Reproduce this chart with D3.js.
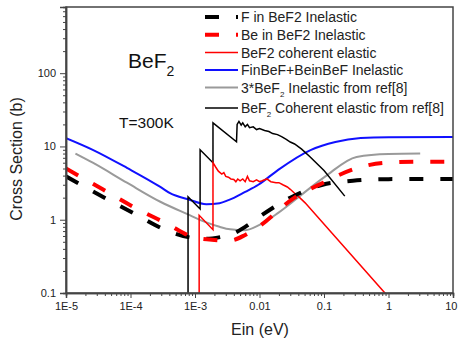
<!DOCTYPE html>
<html><head><meta charset="utf-8">
<script src="https://cdn.jsdelivr.net/npm/d3@7"></script>
<style>body{margin:0;background:#fff;} text{font-family:"Liberation Sans",Arial,sans-serif;}</style>
</head><body>
<svg id="c" width="458" height="343"></svg>
<script>
// ---- data ----
const fInelastic = [[1e-5,3.9],[3.7e-5,2.06],[1.17e-4,1.2],[3.7e-4,0.71],[1e-3,0.56],[1.5e-3,0.55],[2.5e-3,0.58],[3.5e-3,0.62],[6e-3,0.8],[1e-2,1.1],[0.03,2.0],[0.095,3.0],[0.28,3.4],[1,3.58],[10,3.6]];
const beInelastic = [[1e-5,5.0],[3.7e-5,2.6],[1.17e-4,1.46],[3.7e-4,0.88],[1e-3,0.57],[2e-3,0.53],[3.5e-3,0.52],[6e-3,0.62],[1e-2,0.82],[0.032,1.9],[0.097,3.2],[0.31,5.0],[0.88,6.0],[3,6.2],[10,6.2]];
const bef2Coherent = [[1.16e-3,0.01],[1.16e-3,1.15],[1.9e-3,0.73],[1.9e-3,6.0],[2.1e-3,5.2],[2.3e-3,4.6],[2.6e-3,4.2],[2.8e-3,4.4],[3.0e-3,3.9],[3.3e-3,3.8],[3.6e-3,3.6],[4.0e-3,3.55],[4.3e-3,3.3],[4.6e-3,3.6],[5.0e-3,3.4],[5.5e-3,3.6],[6.0e-3,3.3],[6.5e-3,3.9],[7.0e-3,3.4],[8e-3,3.3],[9e-3,3.5],[1.0e-2,3.3],[1.1e-2,3.4],[1.3e-2,3.6],[1.5e-2,3.3],[1.8e-2,3.2],[2.0e-2,3.2],[2.3e-2,3.0],[2.7e-2,2.8],[3.0e-2,2.6],[3.5e-2,2.3],[4.2e-2,2.0],[5.1e-2,1.7],[0.88,0.1],[1.2,0.07]];
const sumInelastic = [[1e-5,13],[2.6e-5,9],[8.8e-5,5.1],[2.9e-4,2.8],[4.1e-4,2.3],[7.8e-4,1.9],[1.5e-3,1.63],[2.4e-3,1.68],[3.3e-3,1.85],[6e-3,2.4],[9.6e-3,3.0],[0.0195,4.8],[0.063,9],[0.15,11.5],[0.37,13],[1,13.4],[10,13.5]];
const refInelastic = [[1.4e-5,8.0],[2.6e-5,6.0],[8.8e-5,3.2],[2.9e-4,1.76],[7.5e-4,1.2],[1.5e-3,0.92],[2.4e-3,0.8],[3.5e-3,0.74],[6e-3,0.72],[1e-2,0.85],[0.0195,1.24],[0.051,2.4],[0.105,3.9],[0.32,7.2],[1,7.9],[3.1,8.0]];
const refCoherent = [[7.8e-4,0.01],[7.8e-4,2.06],[1.2e-3,1.4],[1.2e-3,9.0],[1.9e-3,6.0],[1.9e-3,21],[4.4e-3,11.6],[4.5e-3,20],[4.8e-3,22],[5.2e-3,19.5],[5.5e-3,21],[6e-3,18.5],[6.5e-3,20],[7e-3,18],[8e-3,18.5],[9e-3,17],[1.0e-2,17.5],[1.2e-2,16.5],[1.4e-2,16],[1.6e-2,15],[1.9e-2,14.5],[2.2e-2,13.6],[2.6e-2,12.5],[3.0e-2,11.5],[3.5e-2,10.8],[4.5e-2,9.2],[0.06,7.3],[0.1,4.7],[0.21,2.1]];

const seriesNames = ["F in BeF2 Inelastic","Be in BeF2 Inelastic","BeF2 coherent elastic","FinBeF+BeinBeF Inelastic","3*BeF\u2082 Inelastic from ref[8]","BeF\u2082 Coherent elastic from ref[8]"];
const xTickValues = [1e-5,1e-4,1e-3,1e-2,1e-1,1,10];
const xTickLabels = ["1E-5","1E-4","1E-3","0.01","0.1","1","10"];
const yTickValues = [0.1,1,10,100];
const yTickLabels = ["0.1","1","10","100"];

// ---- layout ----
const L=66, R=453, T=7, B=293;
const svg = d3.select("#c");
const x = d3.scaleLog().domain([1e-5,10]).range([L,R]);
const y = d3.scaleLog().domain([0.1,800]).range([B,T]);

svg.append("clipPath").attr("id","clip").append("rect").attr("x",L).attr("y",T).attr("width",R-L).attr("height",B-T);

const series = [
  {data:fInelastic, color:"#000", w:4, dash:"14,17"},
  {data:beInelastic, color:"#ff0000", w:4, dash:"14,17"},
  {data:bef2Coherent, color:"#ff0000", w:1.5, dash:null},
  {data:sumInelastic, color:"#1010ff", w:2, dash:null},
  {data:refInelastic, color:"#9a9a9a", w:2, dash:null},
  {data:refCoherent, color:"#000", w:1.5, dash:null}
];
const line = d3.line().x(d=>x(d[0])).y(d=>y(d[1])).curve(d3.curveMonotoneX);
const lineLin = d3.line().x(d=>x(d[0])).y(d=>y(d[1]));
const g = svg.append("g").attr("clip-path","url(#clip)");
// draw order: lines behind dashes
[4,3,5,2,0,1].forEach(i=>{
  const s = series[i];
  const smooth = (i===0||i===1||i===3||i===4);
  g.append("path").attr("d",(smooth?line:lineLin)(s.data)).attr("fill","none")
   .attr("stroke",s.color).attr("stroke-width",s.w).attr("stroke-dasharray",s.dash);
});

// ---- frame ----
svg.append("rect").attr("x",L).attr("y",T).attr("width",R-L).attr("height",B-T)
  .attr("fill","none").attr("stroke","#444").attr("stroke-width",1.5);

// ---- axes ----
const xMinor=[], yMinor=[];
for(let e=-5;e<1;e++) for(let k=2;k<=9;k++) xMinor.push(k*Math.pow(10,e));
for(let e=-1;e<3;e++) for(let k=2;k<=9;k++){const v=k*Math.pow(10,e); if(v<=800) yMinor.push(v);}
const xAxis = svg.append("g").attr("transform",`translate(0,${B})`);
xAxis.call(d3.axisBottom(x).tickValues(xMinor).tickSize(3).tickFormat(""));
const xMaj = xAxis.append("g").call(d3.axisBottom(x).tickValues(xTickValues).tickSize(5).tickPadding(4).tickFormat((d,i)=>xTickLabels[i]));
// keep the last label inside the window
xMaj.selectAll(".tick text").filter(d=>d===10).attr("text-anchor","end").attr("dx","4");
const yAxis = svg.append("g").attr("transform",`translate(${L},0)`);
yAxis.call(d3.axisLeft(y).tickValues(yMinor).tickSize(3).tickFormat(""));
yAxis.append("g").call(d3.axisLeft(y).tickValues(yTickValues).tickSize(6).tickPadding(4).tickFormat((d,i)=>yTickLabels[i]));
svg.selectAll(".domain").attr("stroke","#444").attr("stroke-width",1.5);
svg.selectAll(".tick line").attr("stroke","#444");
svg.selectAll(".tick text").attr("font-size",11).attr("fill","#222").attr("font-family","'Liberation Sans',Arial,sans-serif");

// ---- titles ----
svg.append("text").attr("x",260).attr("y",335).attr("text-anchor","middle").attr("font-size",16).attr("fill","#222").text("Ein (eV)");
svg.append("text").attr("transform","translate(22,159) rotate(-90)").attr("text-anchor","middle").attr("font-size",16).attr("fill","#222").text("Cross Section (b)");

const lab = svg.append("text").attr("x",128).attr("y",68).attr("font-size",21).attr("fill","#111");
lab.append("tspan").text("BeF");
lab.append("tspan").attr("font-size",14).attr("dy",8).text("2");
svg.append("text").attr("x",119).attr("y",128).attr("font-size",15.5).attr("fill","#111").text("T=300K");

// ---- legend ----
const legY = [17,34.7,52.5,70,87.5,108];
const leg = svg.append("g");
seriesNames.forEach((name,i)=>{
  const s = series[i];
  leg.append("line").attr("x1",205).attr("x2",238).attr("y1",legY[i]).attr("y2",legY[i])
    .attr("stroke",s.color).attr("stroke-width",s.dash?4:(i===3||i===4?2:1.5)).attr("stroke-dasharray",s.dash);
  const t = leg.append("text").attr("x",241).attr("y",legY[i]+5).attr("font-size",14).attr("fill","#222");
  if(i>=4){
    t.append("tspan").text(i===4?"3*BeF":"BeF");
    t.append("tspan").attr("font-size",8).attr("dy",4).text("2");
    t.append("tspan").attr("dy",-4).text(i===4?" Inelastic from ref[8]":" Coherent elastic from ref[8]");
  } else t.text(name);
});
</script>
</body></html>
